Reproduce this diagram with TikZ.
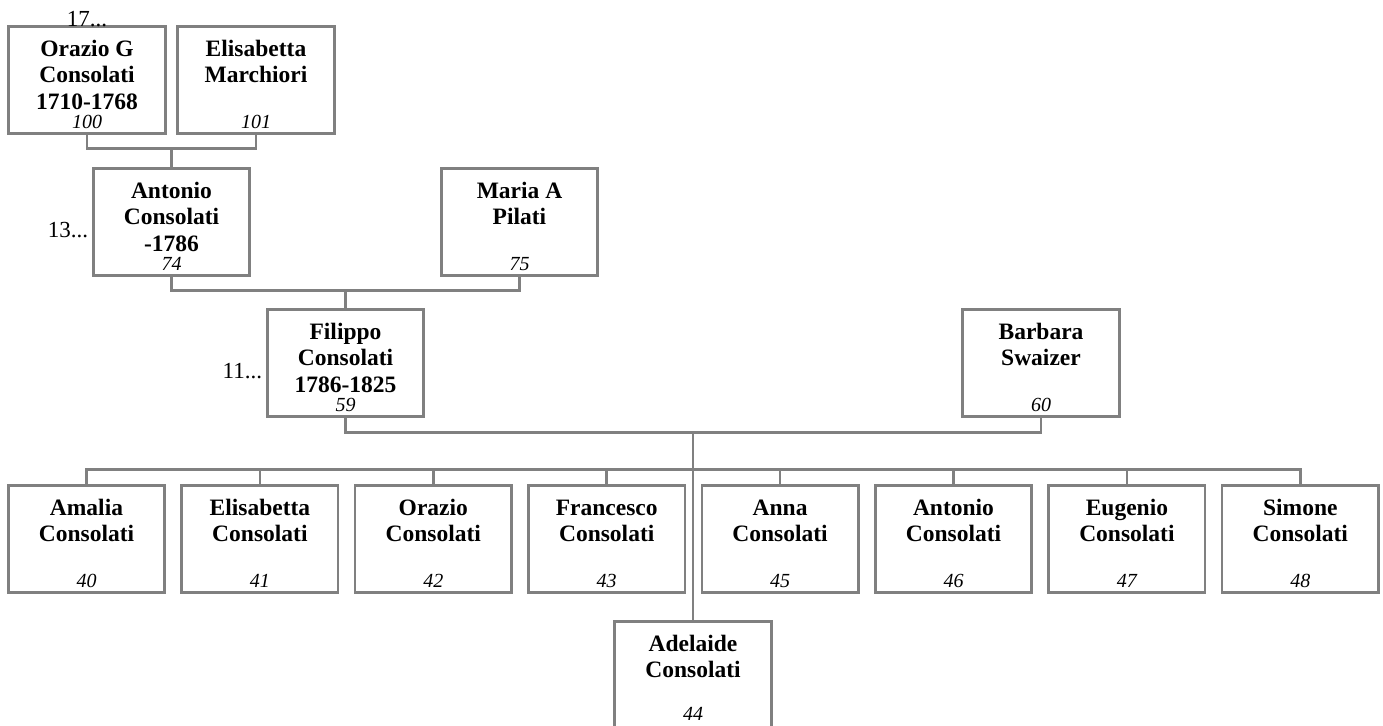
\documentclass[tikz,border=0pt]{standalone}
\usepackage{fontspec}
\setmainfont{Liberation Serif}
\usetikzlibrary{calc}
\definecolor{boxgray}{RGB}{128,128,128}
\tikzset{
  person/.style={draw=boxgray, line width=2.6pt, minimum width=156.5pt, minimum height=107.5pt, inner sep=0pt, outer sep=0pt, fill=white},
  namelabel/.style={anchor=north, inner sep=0pt, align=center, font=\fontsize{23.5}{26.5}\selectfont\bfseries},
  idlabel/.style={anchor=base, inner sep=0pt, font=\fontsize{20}{24}\selectfont\itshape},
  morelabel/.style={inner sep=0pt, font=\fontsize{23}{26}\selectfont},
  link/.style={draw=boxgray, line width=2.6pt},
}
\newcommand{\personbox}[6][5]{%
  \node[person] (#2) at (#3,#4) {};
  \node[namelabel] (#2-name) at ($(#2.north)+(0,13)$) {\rule{0pt}{17pt}#5};
  \node[idlabel] (#2-id) at ($(#2.south)+(0,-#1)$) {#6};
}
\begin{document}
\begin{tikzpicture}[x=1pt,y=-1pt]
\useasboundingbox (0,0) rectangle (1383,725);
% ancestors
\personbox{o100}{87}{80}{Orazio G\\Consolati\\1710-1768}{100}
\personbox{e101}{256}{80}{Elisabetta\\Marchiori}{101}
\personbox{a74}{171.5}{222}{Antonio\\Consolati\\-1786}{74}
\personbox{m75}{519.5}{222}{Maria A\\Pilati}{75}
\personbox{f59}{345.5}{363}{Filippo\\Consolati\\1786-1825}{59}
\personbox{b60}{1041}{363}{Barbara\\Swaizer}{60}
% children
\foreach \id/\nm [count=\k from 0] in {40/Amalia,41/Elisabetta,42/Orazio,43/Francesco,45/Anna,46/Antonio,47/Eugenio,48/Simone}{
  \personbox{c\id}{86.5+173.4*\k}{539}{\nm\\Consolati}{\id}
}
\personbox[8]{c44}{693}{675}{Adelaide\\Consolati}{44}
% more labels
\node[morelabel, anchor=base] (o100-more) at (o100.north) {17...};
\node[morelabel, anchor=base east] (a74-more) at ($(a74.west)+(-5,15)$) {13...};
\node[morelabel, anchor=base east] (f59-more) at ($(f59.west)+(-5,15)$) {11...};
% connectors
\draw[link] (o100.south) -- ++(0,15) coordinate (j1) -| (e101.south);
\draw[link] (a74.north) -- (a74.north |- j1);
\draw[link] (a74.south) -- ++(0,15) coordinate (j2) -| (m75.south);
\draw[link] (f59.north) -- (f59.north |- j2);
\draw[link] (f59.south) -- ++(0,16) coordinate (j3) -| (b60.south);
\draw[link] (c44.north) -- (c44.north |- j3);
\draw[link] (c40.north) -- ++(0,-16) coordinate (k) -- (k -| c48.north) -- (c48.north);
\foreach \id in {41,42,43,45,46,47}{
  \draw[link] (c\id.north) -- (c\id.north |- k);
}
\end{tikzpicture}
\end{document}
